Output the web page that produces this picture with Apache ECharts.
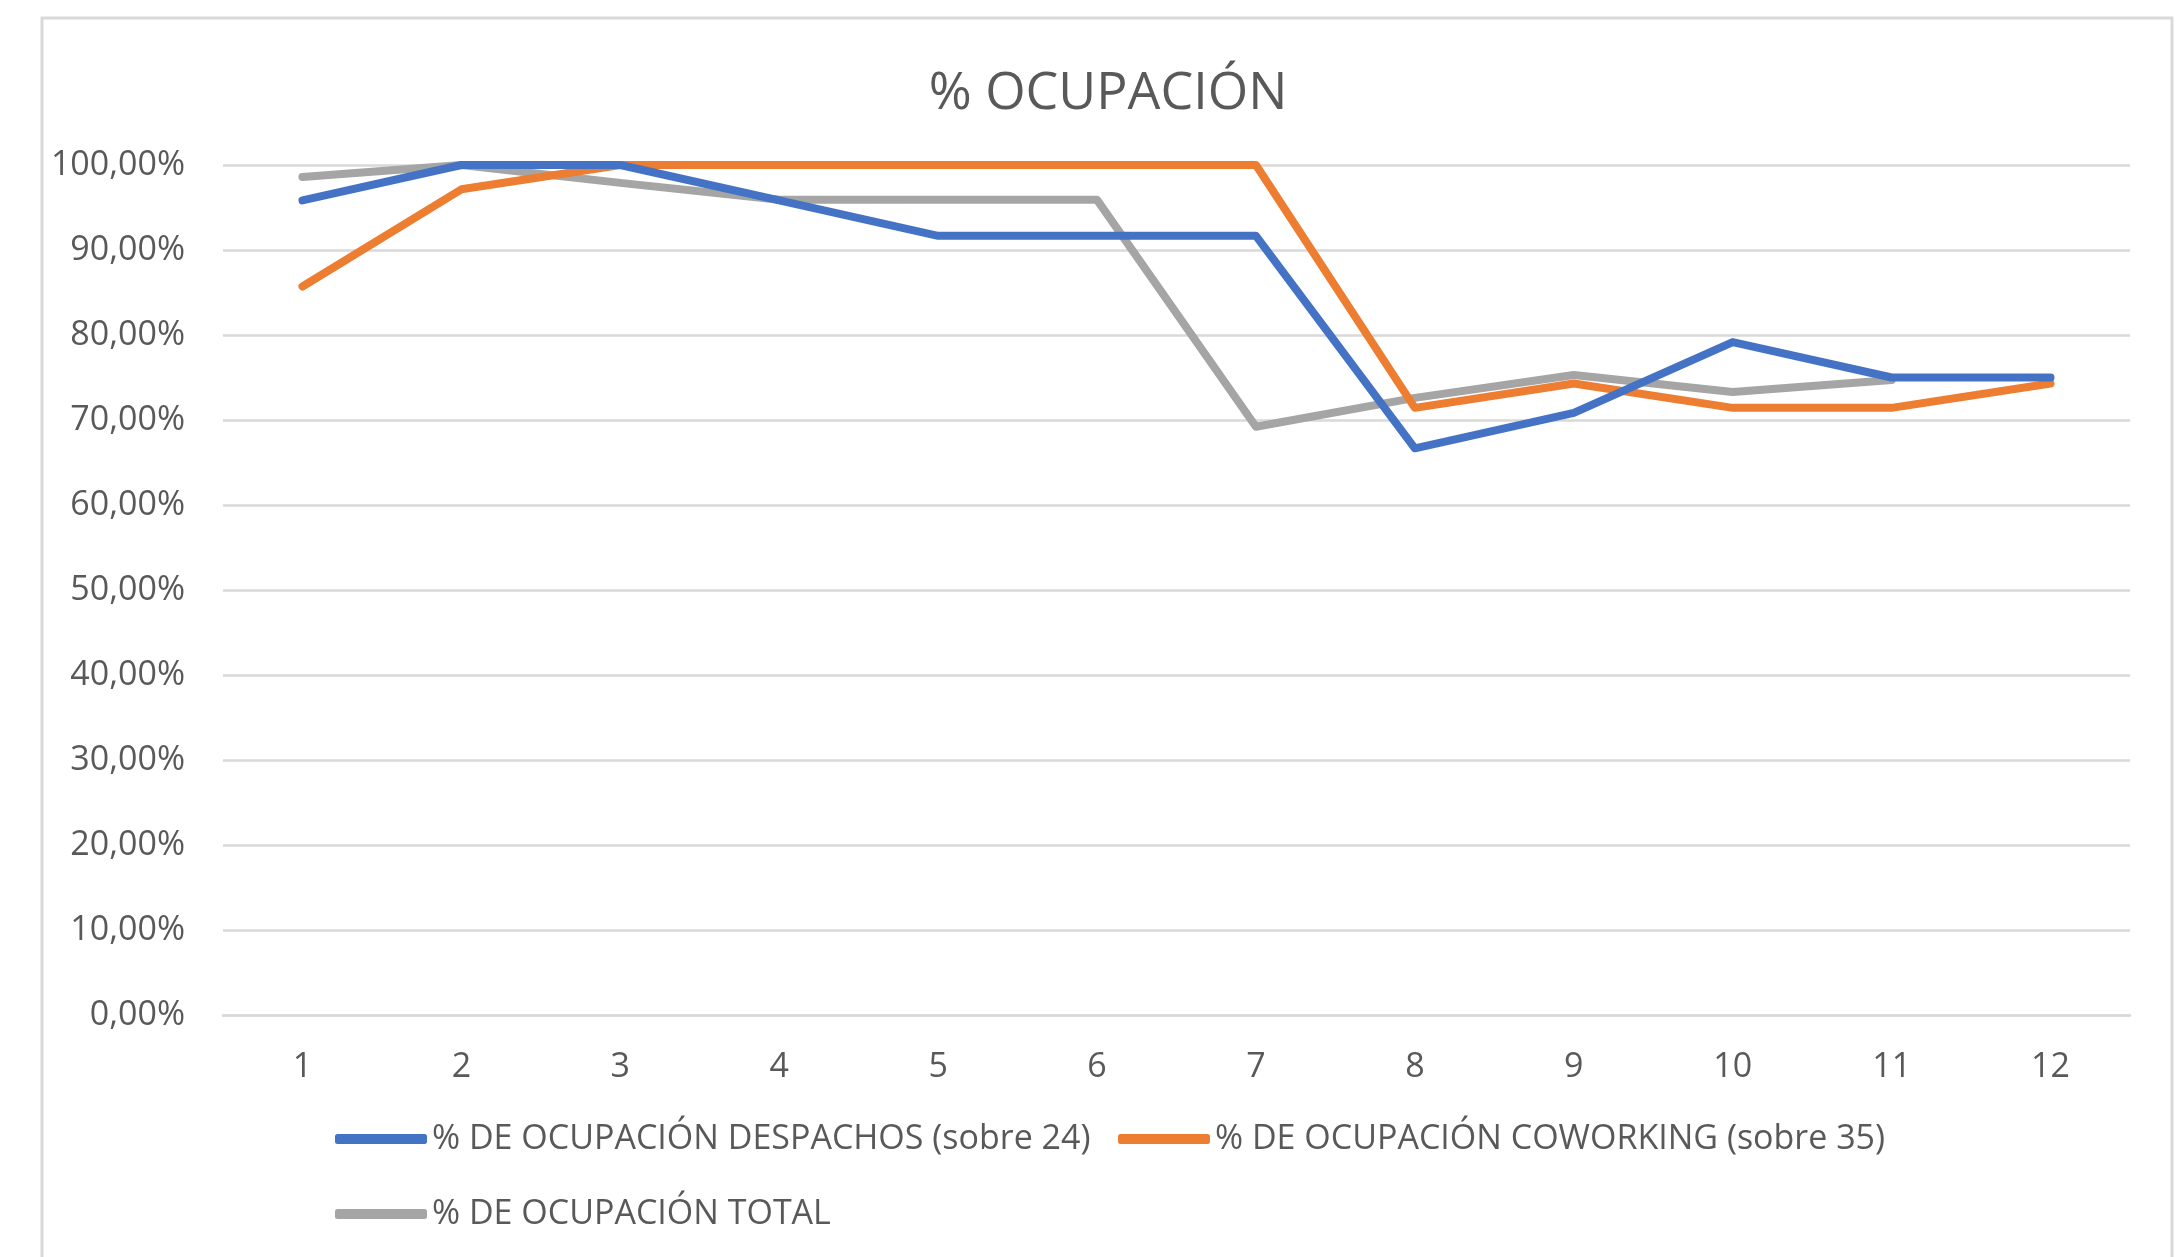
<!DOCTYPE html>
<html>
<head>
<meta charset="utf-8">
<script src="https://cdn.jsdelivr.net/npm/echarts@6/dist/echarts.min.js"></script>
<style>
html,body{margin:0;padding:0;background:#fff;}
#chart{width:2183px;height:1257px;}
</style>
</head>
<body>
<div id="chart"></div>
<script>
const titleText = '% OCUPACIÓN';
const categories = ['1','2','3','4','5','6','7','8','9','10','11','12'];
const seriesNames = [
  '% DE OCUPACIÓN DESPACHOS (sobre 24)',
  '% DE OCUPACIÓN COWORKING (sobre 35)',
  '% DE OCUPACIÓN TOTAL'
];
const despachos = [95.83, 100, 100, 95.83, 91.67, 91.67, 91.67, 66.67, 70.83, 79.17, 75.00, 75.00];
const coworking = [85.71, 97.14, 100, 100, 100, 100, 100, 71.43, 74.29, 71.43, 71.43, 74.29];
const total = [98.6, 100, 97.9, 95.9, 95.9, 95.9, 69.2, 72.6, 75.3, 73.3, 74.7, null];
const colors = ['#4472C4', '#ED7D31', '#A5A5A5'];

const FONT = '"Open Sans", "Noto Sans", sans-serif';
const chart = echarts.init(document.getElementById('chart'), null, {renderer: 'canvas'});

function legendFor(i, left, top) {
  return {
    data: [seriesNames[i]],
    left: left, top: top,
    orient: 'horizontal',
    icon: 'roundRect',
    itemWidth: 92, itemHeight: 10,
    padding: 0,
    textStyle: {fontFamily: FONT, fontSize: 34, color: '#595959', lineHeight: 40}
  };
}

const option = {
  backgroundColor: '#ffffff',
  animation: false,
  color: colors,
  graphic: [{
    type: 'rect',
    shape: {x: 42, y: 18, width: 2130, height: 1300},
    style: {fill: 'none', stroke: '#D9D9D9', lineWidth: 3},
    silent: true, z: -10
  }],
  title: {
    text: titleText,
    left: 1103, top: 63,
    textAlign: 'center',
    textStyle: {fontFamily: FONT, fontSize: 52, fontWeight: 'normal', color: '#595959'}
  },
  legend: [
    legendFor(0, 335, 1119),
    legendFor(1, 1118, 1119),
    legendFor(2, 335, 1194)
  ],
  grid: {left: 223, right: 53, top: 165, bottom: 242, containLabel: false},
  xAxis: {
    type: 'category',
    data: categories,
    boundaryGap: true,
    axisLine: {show: true, lineStyle: {color: '#D9D9D9', width: 2.5}},
    axisTick: {show: false},
    axisLabel: {fontFamily: FONT, fontSize: 34, color: '#595959', margin: 35}
  },
  yAxis: {
    type: 'value',
    min: 0, max: 100, interval: 10,
    axisLine: {show: false},
    axisTick: {show: false},
    splitLine: {lineStyle: {color: '#D9D9D9', width: 2.5}},
    axisLabel: {
      fontFamily: FONT, fontSize: 34, color: '#595959', margin: 38,
      formatter: v => v.toFixed(2).replace('.', ',') + '%'
    }
  },
  series: [despachos, coworking, total].map((d, i) => ({
    name: seriesNames[i],
    type: 'line',
    data: d,
    symbol: 'none',
    smooth: false,
    connectNulls: false,
    lineStyle: {width: 8, color: colors[i], cap: 'round', join: 'round'},
    itemStyle: {color: colors[i]},
    z: 3 + (2 - i)
  }))
};
chart.setOption(option);
</script>
</body>
</html>
